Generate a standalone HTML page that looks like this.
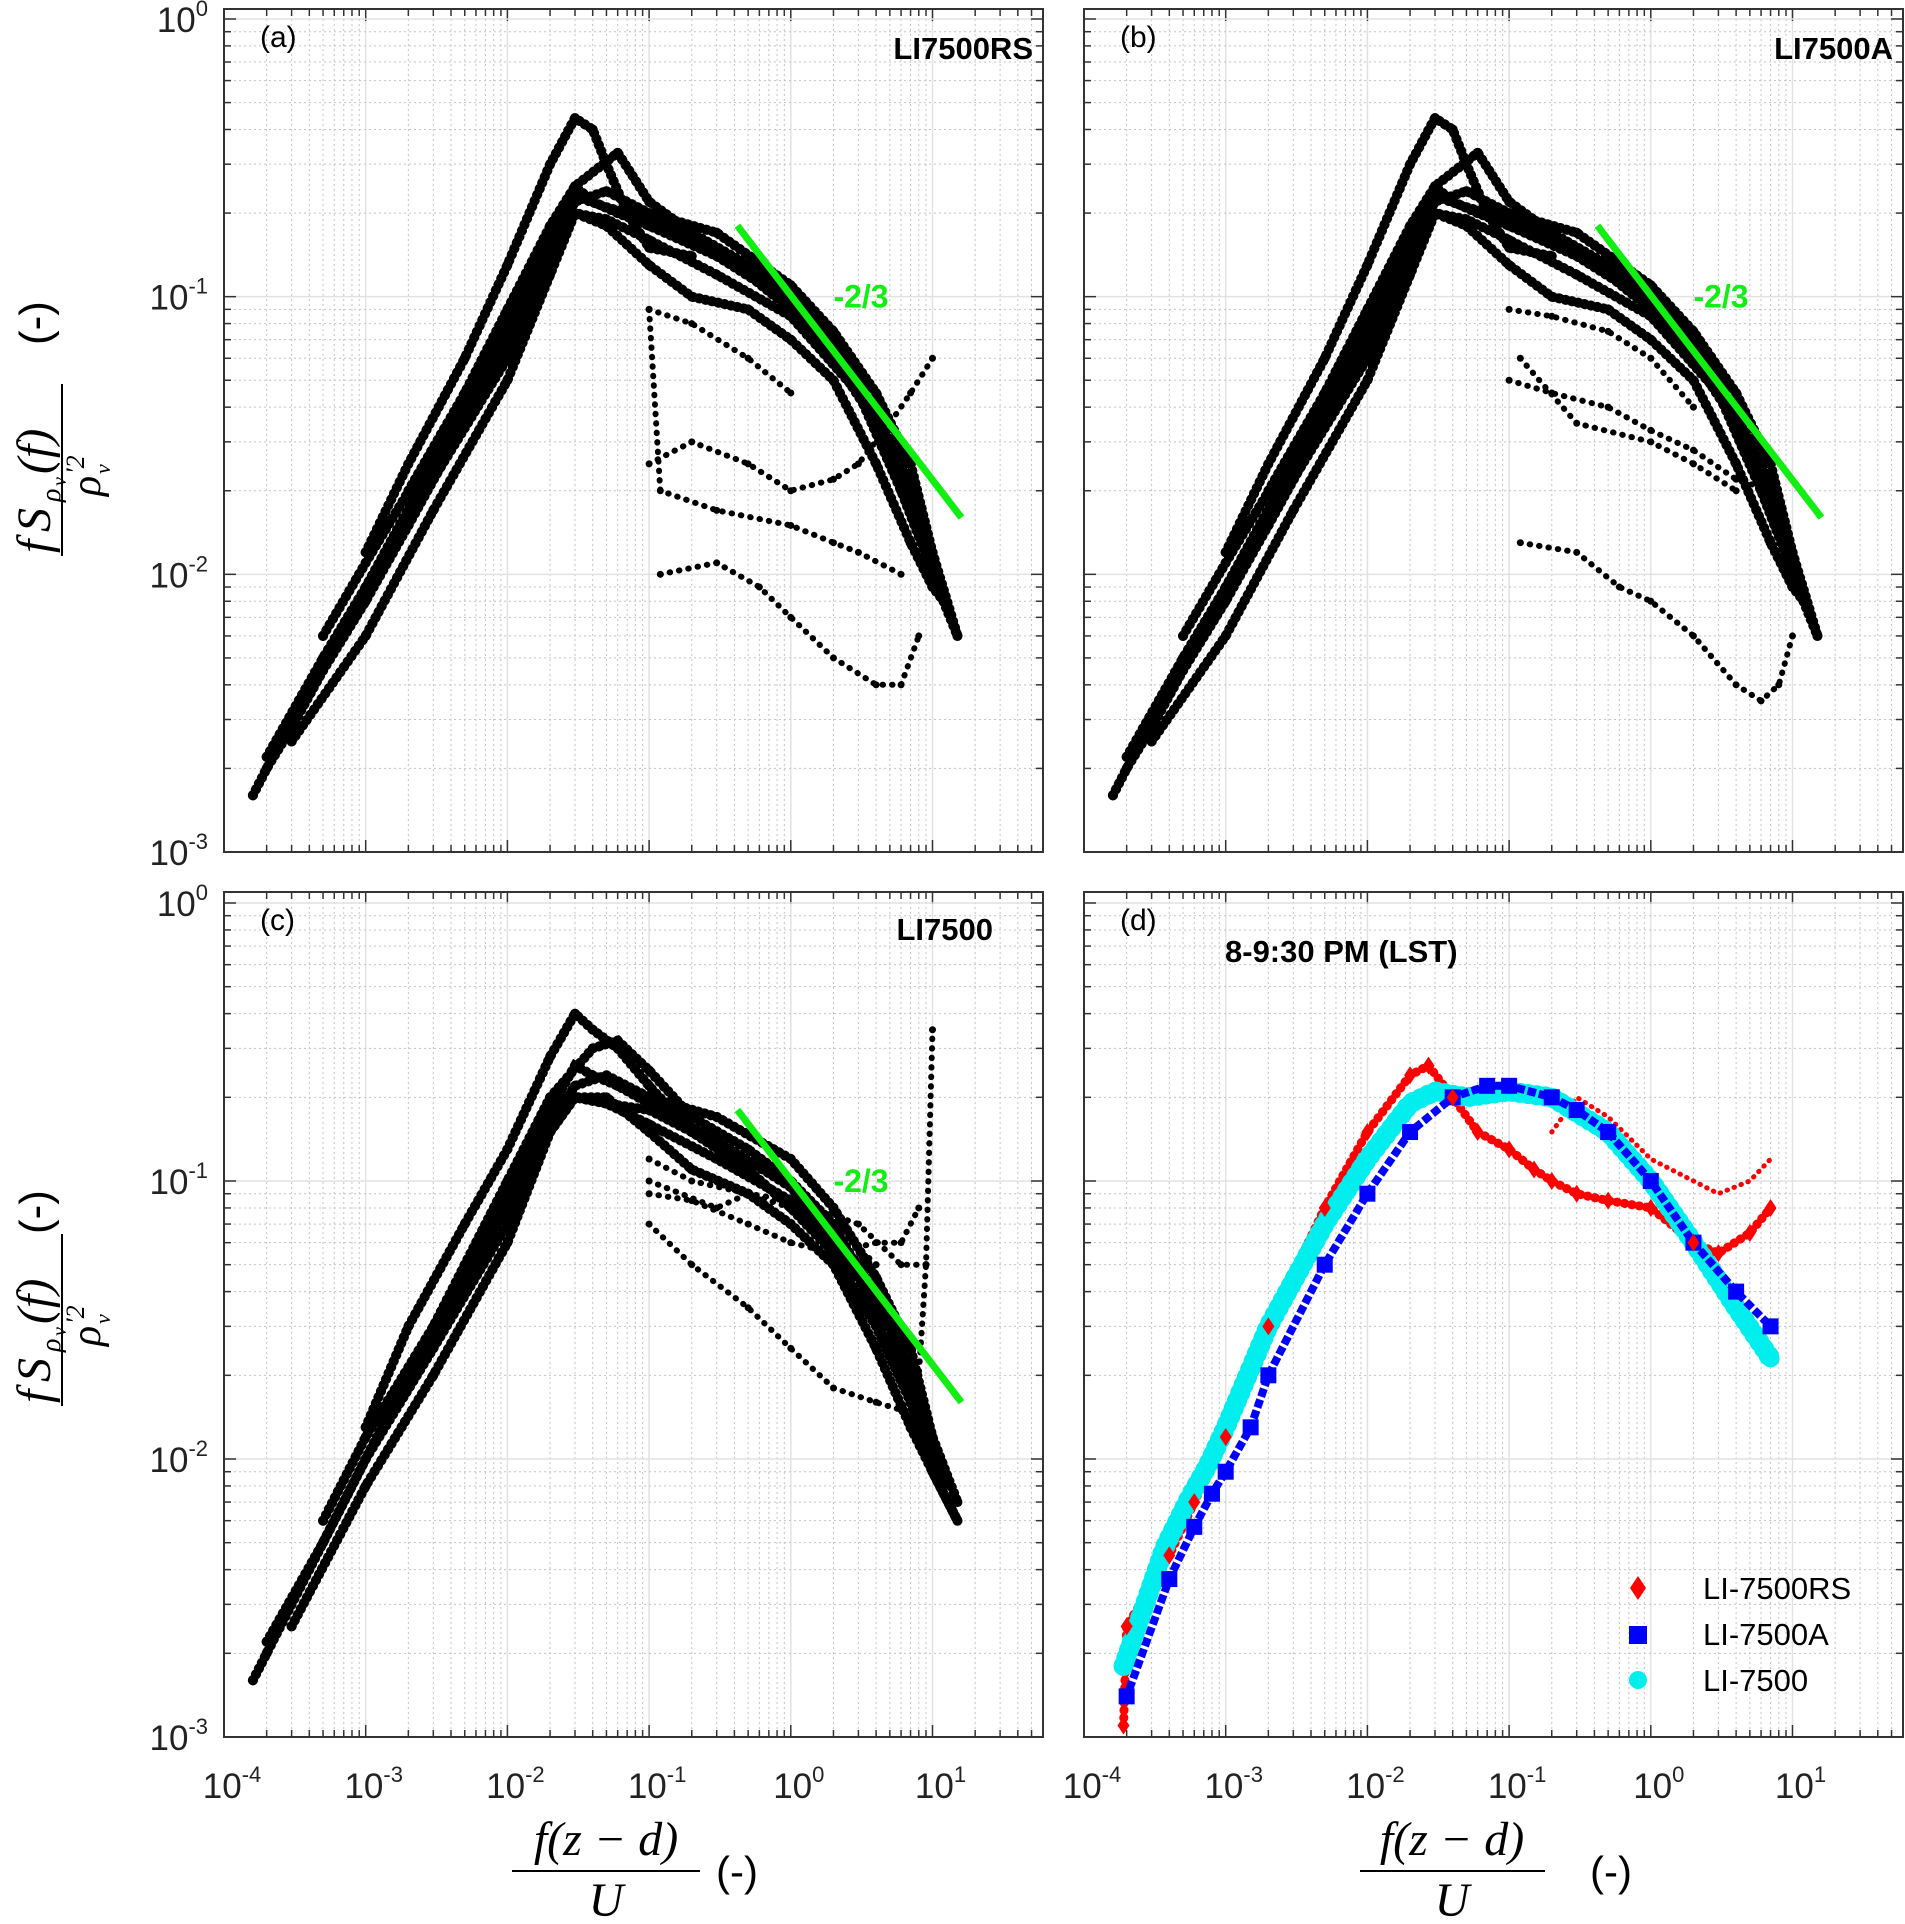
<!DOCTYPE html>
<html><head><meta charset="utf-8"><style>
html,body{margin:0;padding:0;background:#fff;}
svg{display:block;}
text{font-family:"Liberation Sans",sans-serif;}
.serif{font-family:"Liberation Serif",serif;font-style:italic;}
</style></head><body>
<svg id="chart" xmlns="http://www.w3.org/2000/svg" width="1905" height="1924" viewBox="0 0 1905 1924">
<rect width="1905" height="1924" fill="#fff"/>
<g id="layer"></g>
<g transform="translate(0,470) rotate(-90)">
  <text class="serif" x="-83" y="50" font-size="48">f</text>
  <text class="serif" x="-62" y="50" font-size="48">S</text>
  <text class="serif" x="-32" y="60" font-size="28">ρ</text>
  <text class="serif" x="-16" y="66" font-size="20">v</text>
  <text class="serif" x="-4" y="50" font-size="48">(f)</text>
  <line x1="-86" y1="62" x2="86" y2="62" stroke="#000" stroke-width="2"/>
  <text class="serif" x="-26" y="100" font-size="42">ρ</text>
  <text class="serif" x="-4" y="84" font-size="26">′2</text>
  <text class="serif" x="-4" y="110" font-size="22">v</text>
  <text x="125" y="50" font-size="44">(-)</text>
</g>
<g transform="translate(0,1320) rotate(-90)">
  <text class="serif" x="-83" y="50" font-size="48">f</text>
  <text class="serif" x="-62" y="50" font-size="48">S</text>
  <text class="serif" x="-32" y="60" font-size="28">ρ</text>
  <text class="serif" x="-16" y="66" font-size="20">v</text>
  <text class="serif" x="-4" y="50" font-size="48">(f)</text>
  <line x1="-86" y1="62" x2="86" y2="62" stroke="#000" stroke-width="2"/>
  <text class="serif" x="-26" y="100" font-size="42">ρ</text>
  <text class="serif" x="-4" y="84" font-size="26">′2</text>
  <text class="serif" x="-4" y="110" font-size="22">v</text>
  <text x="86" y="50" font-size="44">(-)</text>
</g>
<g>
  <text class="serif" x="606" y="1855" font-size="48" text-anchor="middle">f(z − d)</text>
  <line x1="512" y1="1871" x2="700" y2="1871" stroke="#000" stroke-width="2"/>
  <text class="serif" x="606" y="1916" font-size="48" text-anchor="middle">U</text>
  <text x="716" y="1886" font-size="42">(-)</text>
</g>
<g>
  <text class="serif" x="1452" y="1855" font-size="48" text-anchor="middle">f(z − d)</text>
  <line x1="1360" y1="1871" x2="1545" y2="1871" stroke="#000" stroke-width="2"/>
  <text class="serif" x="1452" y="1916" font-size="48" text-anchor="middle">U</text>
  <text x="1590" y="1886" font-size="42">(-)</text>
</g>
</svg>
<script>
// ---------- data (x = f(z-d)/U, y = normalized spectrum) ----------
const aXs = [
 [1.6e-4,2e-4,3e-4,5e-4,1e-3,2e-3,5e-3,1e-2,2e-2,3e-2,5e-2,0.1,0.2,0.5,1,2,4,7,10,15],
 [1e-3,2e-3,5e-3,1e-2,2e-2,3e-2,4e-2,5e-2,7e-2,0.1,0.2],
 [2e-3,5e-3,1e-2,2e-2,3e-2,6e-2,0.1,0.2],
 [3e-4,1e-3,3e-3,1e-2,2e-2,3e-2,5e-2,0.1,0.2,0.5,1,2,4,7,10,12],
 [0.06,0.1,0.3,1,2,4,7,10,15],
 [5e-4,1e-3,3e-3,1e-2,2e-2,3e-2,4e-2,6e-2,0.1,0.3,1,3,6,10],
 [2e-4,5e-4,1e-3,3e-3,1e-2,2e-2,3e-2,5e-2,0.1,0.3,1,3,6,12],
 [1e-3,3e-3,1e-2,2e-2,3e-2,5e-2,0.1,0.2,0.5,1,2,5,10],
 [0.1,0.2,0.5,1,2,3,5,7,10],
 [0.1,0.12,0.3,1,2,3,6],
 [0.12,0.3,0.6,1,2,4,6,8],
 [0.1,0.2,0.5,1]
];
const aYs = [
 [0.0016,0.002,0.0028,0.0045,0.008,0.015,0.035,0.07,0.17,0.23,0.21,0.19,0.16,0.12,0.09,0.06,0.035,0.018,0.01,0.006],
 [0.012,0.025,0.06,0.13,0.3,0.44,0.4,0.3,0.2,0.15,0.14],
 [0.02,0.045,0.09,0.18,0.25,0.33,0.22,0.17],
 [0.0025,0.006,0.017,0.05,0.12,0.2,0.18,0.13,0.1,0.09,0.07,0.05,0.025,0.013,0.009,0.008],
 [0.2,0.2,0.17,0.11,0.075,0.045,0.025,0.012,0.006],
 [0.006,0.011,0.028,0.08,0.17,0.25,0.22,0.2,0.18,0.14,0.095,0.05,0.025,0.012],
 [0.0022,0.005,0.009,0.022,0.06,0.14,0.2,0.19,0.16,0.12,0.085,0.045,0.02,0.008],
 [0.009,0.025,0.07,0.15,0.22,0.24,0.2,0.17,0.13,0.1,0.07,0.03,0.01],
 [0.025,0.03,0.025,0.02,0.022,0.025,0.035,0.045,0.06],
 [0.09,0.02,0.017,0.015,0.013,0.012,0.01],
 [0.01,0.011,0.009,0.007,0.005,0.004,0.004,0.006],
 [0.09,0.08,0.06,0.045]
];
const bXs = [
 [1.6e-4,2e-4,3e-4,5e-4,1e-3,2e-3,5e-3,1e-2,2e-2,3e-2,5e-2,0.1,0.2,0.5,1,2,4,7,10,15],
 [1e-3,2e-3,5e-3,1e-2,2e-2,3e-2,4e-2,5e-2,7e-2,0.1,0.2],
 [2e-3,5e-3,1e-2,2e-2,3e-2,6e-2,0.1,0.2],
 [3e-4,1e-3,3e-3,1e-2,2e-2,3e-2,5e-2,0.1,0.2,0.5,1,2,4,7,10,12],
 [0.06,0.1,0.3,1,2,4,7,10,15],
 [5e-4,1e-3,3e-3,1e-2,2e-2,3e-2,4e-2,6e-2,0.1,0.3,1,3,6,10],
 [2e-4,5e-4,1e-3,3e-3,1e-2,2e-2,3e-2,5e-2,0.1,0.3,1,3,6,12],
 [1e-3,3e-3,1e-2,2e-2,3e-2,5e-2,0.1,0.2,0.5,1,2,5,10],
 [0.1,0.2,0.5,1,2,4,7],
 [0.12,0.3,0.6,1,2,4,6,8,10],
 [0.12,0.3,1,2,4],
 [0.1,0.2,0.5,1,2]
];
const bYs = [
 [0.0016,0.002,0.0028,0.0045,0.008,0.015,0.035,0.07,0.17,0.23,0.21,0.19,0.16,0.12,0.09,0.06,0.035,0.018,0.01,0.006],
 [0.012,0.025,0.06,0.13,0.3,0.44,0.4,0.3,0.2,0.15,0.14],
 [0.02,0.045,0.09,0.18,0.25,0.33,0.22,0.17],
 [0.0025,0.006,0.017,0.05,0.12,0.2,0.18,0.13,0.1,0.09,0.07,0.05,0.025,0.013,0.009,0.008],
 [0.2,0.2,0.17,0.11,0.075,0.045,0.025,0.012,0.006],
 [0.006,0.011,0.028,0.08,0.17,0.25,0.22,0.2,0.18,0.14,0.095,0.05,0.025,0.012],
 [0.0022,0.005,0.009,0.022,0.06,0.14,0.2,0.19,0.16,0.12,0.085,0.045,0.02,0.008],
 [0.009,0.025,0.07,0.15,0.22,0.24,0.2,0.17,0.13,0.1,0.07,0.03,0.01],
 [0.05,0.045,0.04,0.033,0.028,0.022,0.02],
 [0.013,0.012,0.009,0.008,0.006,0.004,0.0035,0.004,0.006],
 [0.06,0.035,0.03,0.025,0.02],
 [0.09,0.085,0.075,0.06,0.04]
];
const cXs = [
 [1.6e-4,2e-4,3e-4,5e-4,1e-3,2e-3,5e-3,1e-2,2e-2,3e-2,5e-2,0.1,0.2,0.5,1,2,4,7,10,15],
 [1e-3,2e-3,5e-3,1e-2,2e-2,3e-2,4e-2,6e-2,0.1,0.2],
 [2e-3,5e-3,1e-2,2e-2,4e-2,6e-2,0.1,0.2],
 [3e-4,1e-3,3e-3,1e-2,2e-2,3e-2,5e-2,0.1,0.2,0.5,1,2,4,7,10,15],
 [0.06,0.1,0.3,1,2,4,7,10,15],
 [5e-4,1e-3,3e-3,1e-2,2e-2,3e-2,4e-2,6e-2,0.1,0.3,1,3,6,10],
 [2e-4,5e-4,1e-3,3e-3,1e-2,2e-2,3e-2,5e-2,0.1,0.3,1,3,6,12],
 [1e-3,3e-3,1e-2,2e-2,3e-2,5e-2,0.1,0.2,0.5,1,2,5,10],
 [0.1,0.2,0.5,1,2,4,6,8,9,10],
 [0.1,0.2,0.5,1,2,4,6,8],
 [0.1,0.3,0.5,1,2,4],
 [0.1,0.2,0.5,1,3,6,9]
];
const cYs = [
 [0.0016,0.002,0.003,0.005,0.01,0.02,0.045,0.09,0.18,0.2,0.19,0.18,0.15,0.11,0.08,0.055,0.03,0.016,0.009,0.006],
 [0.013,0.03,0.07,0.13,0.28,0.4,0.35,0.3,0.22,0.15],
 [0.02,0.05,0.1,0.2,0.3,0.32,0.25,0.17],
 [0.0025,0.008,0.02,0.06,0.15,0.2,0.2,0.15,0.11,0.09,0.07,0.05,0.025,0.013,0.009,0.006],
 [0.22,0.2,0.17,0.12,0.08,0.045,0.025,0.012,0.007],
 [0.006,0.012,0.03,0.09,0.18,0.26,0.24,0.22,0.19,0.14,0.095,0.05,0.025,0.012],
 [0.0022,0.005,0.01,0.025,0.07,0.15,0.2,0.19,0.16,0.12,0.085,0.045,0.02,0.008],
 [0.01,0.028,0.08,0.16,0.22,0.24,0.2,0.17,0.13,0.1,0.07,0.03,0.01],
 [0.07,0.05,0.035,0.025,0.018,0.016,0.015,0.02,0.05,0.35],
 [0.09,0.085,0.07,0.06,0.055,0.06,0.06,0.08],
 [0.1,0.08,0.09,0.08,0.07,0.05],
 [0.12,0.1,0.09,0.085,0.07,0.05,0.05]
];
const dRedX = [1.9e-4,2e-4,4e-4,6e-4,1e-3,2e-3,5e-3,1e-2,2e-2,2.7e-2,4e-2,6e-2,0.1,0.15,0.2,0.3,0.5,1,2,3,5,7];
const dRedY = [0.0011,0.0025,0.0045,0.007,0.012,0.03,0.08,0.15,0.24,0.26,0.2,0.15,0.13,0.11,0.1,0.09,0.085,0.08,0.06,0.055,0.065,0.08];
const dRed2X = [0.2,0.3,0.5,1,2,3,5,7];
const dRed2Y = [0.15,0.2,0.17,0.12,0.1,0.09,0.1,0.12];
const dBlueX = [2e-4,4e-4,6e-4,8e-4,1e-3,1.5e-3,2e-3,5e-3,1e-2,2e-2,4e-2,7e-2,0.1,0.2,0.3,0.5,1,2,4,7];
const dBlueY = [0.0014,0.0037,0.0057,0.0075,0.009,0.013,0.02,0.05,0.09,0.15,0.2,0.22,0.22,0.2,0.18,0.15,0.1,0.06,0.04,0.03];
const dCyanX = [1.9e-4,3.7e-4,5.5e-4,7.5e-4,1e-3,2e-3,5e-3,1e-2,2e-2,3e-2,5e-2,0.1,0.2,0.5,1,2,4,7];
const dCyanY = [0.0018,0.0048,0.0072,0.0095,0.013,0.03,0.07,0.12,0.19,0.21,0.2,0.21,0.2,0.15,0.1,0.06,0.035,0.023];
const slopeX = [0.42,16];
const slopeY = [0.18,0.016];
const xTickExp = [-4,-3,-2,-1,0,1];
const yTickExp = [0,-1,-2,-3];

// ---------- layout ----------
const NS='http://www.w3.org/2000/svg';
const layer=document.getElementById('layer');
const DEC=141.7;
const MAIN=8;
const panels=[
 {id:'a',l:224,r:1043,y0:19,yb:852,top:9,xl:false,yl:true,title:'LI7500RS',xs:aXs,ys:aYs},
 {id:'b',l:1084,r:1903,y0:19,yb:852,top:9,xl:false,yl:false,title:'LI7500A',xs:bXs,ys:bYs},
 {id:'c',l:224,r:1043,y0:903,yb:1737,top:892,xl:true,yl:true,title:'LI7500',xs:cXs,ys:cYs},
 {id:'d',l:1084,r:1903,y0:903,yb:1737,top:892,xl:true,yl:false,title:'8-9:30 PM (LST)'}
];
function mk(tag,attrs,parent){const e=document.createElementNS(NS,tag);for(const k in attrs)e.setAttribute(k,attrs[k]);(parent||layer).appendChild(e);return e;}
function X(p,v){return p.l+DEC*(Math.log10(v)+4);}
function Y(p,v){return p.y0+(p.yb-p.y0)/3*(-Math.log10(v));}
function pts(p,xs,ys){return xs.map((x,i)=>X(p,x).toFixed(1)+','+Y(p,ys[i]).toFixed(1)).join(' ');}

panels.forEach(p=>{
 const g=mk('g',{});
 
 
 const grid=mk('g',{},g);
 
 
 for(let n=-4;n<=1;n++)for(let k=1;k<=9;k++){
  const xv=k*Math.pow(10,n);const x=X(p,xv);if(x>p.r-1)continue;
  if(k===1){mk('line',{x1:x,y1:p.top,x2:x,y2:p.yb,stroke:'#e2e2e2','stroke-width':1.5},grid);}
  else mk('line',{x1:x,y1:p.top,x2:x,y2:p.yb,stroke:'#c4c4c4','stroke-width':1,'stroke-dasharray':'2 3'},grid);
  const tl=k===1?12:7;
  mk('line',{x1:x,y1:p.yb,x2:x,y2:p.yb-tl,stroke:'#333','stroke-width':1.5},grid);
  mk('line',{x1:x,y1:p.top,x2:x,y2:p.top+tl,stroke:'#333','stroke-width':1.5},grid);
 }
 for(let n=-3;n<=0;n++)for(let k=1;k<=9;k++){
  const yv=k*Math.pow(10,n);if(yv>1.001)continue;const y=Y(p,yv);
  if(k===1){mk('line',{x1:p.l,y1:y,x2:p.r,y2:y,stroke:'#e2e2e2','stroke-width':1.5},grid);}
  else mk('line',{x1:p.l,y1:y,x2:p.r,y2:y,stroke:'#c4c4c4','stroke-width':1,'stroke-dasharray':'2 3'},grid);
  const tl=k===1?12:7;
  mk('line',{x1:p.l,y1:y,x2:p.l+tl,y2:y,stroke:'#333','stroke-width':1.5},grid);
  mk('line',{x1:p.r,y1:y,x2:p.r-tl,y2:y,stroke:'#333','stroke-width':1.5},grid);
 }
 const frame=mk('rect',{x:p.l,y:p.top,width:p.r-p.l,height:p.yb-p.top,fill:'none',stroke:'#333','stroke-width':2},g);
 
 
 if(p.yl) yTickExp.forEach(e=>{
  const t=mk('text',{x:208,y:Y(p,Math.pow(10,e))+13,'font-size':35,'text-anchor':'end',fill:'#222'},g);
  
  
  t.innerHTML='10<tspan font-size="22" dy="-16">'+(e===0?'0':('-'+(-e)))+'</tspan>';
 });
 if(p.xl) xTickExp.forEach(e=>{
  const t=mk('text',{x:X(p,Math.pow(10,e))+8,y:1798,'font-size':35,'text-anchor':'middle',fill:'#222'},g);
  
  
  t.innerHTML='10<tspan font-size="22" dy="-16">'+(e===0?'0':(e>0?e:'-'+(-e)))+'</tspan>';
 });
 const lt=mk('text',{x:p.l+36,y:p.top+38,'font-size':30},g);
 
 
 lt.textContent='('+p.id+')';
 const tt=p.id==='d'?mk('text',{x:1225,y:p.top+70,'font-size':31,'font-weight':'bold'},g):mk('text',{x:p.r-10,y:p.top+50,'font-size':31,'font-weight':'bold','text-anchor':'end'},g);
 if(p.id==='c'){tt.setAttribute('x',p.r-50);tt.setAttribute('y',p.top+48);}
 
 
 tt.textContent=p.title;

 if(p.xs){
  const s=mk('g',{},g);
  
  
  p.xs.forEach((xs,i)=>{
   const main=i<MAIN;
   const pl=mk('polyline',{points:pts(p,xs,p.ys[i]),fill:'none',stroke:'#000','stroke-width':main?10:6,'stroke-linecap':'round','stroke-dasharray':main?'0.5 6':'0.5 9'},s);
   
   
   xs.forEach((x,j)=>{
    const c=mk('circle',{cx:X(p,x),cy:Y(p,p.ys[i][j]),r:main?5:3.5,fill:'#000'},s);
    
    
   });
  });
  const gl=mk('line',{x1:X(p,slopeX[0]),y1:Y(p,slopeY[0]),x2:X(p,slopeX[1]),y2:Y(p,slopeY[1]),stroke:'#11ee11','stroke-width':7},g);
  
  
  const st=mk('text',{x:X(p,2.0),y:Y(p,0.1)+11,'font-size':32,'font-weight':'bold',fill:'#11ee11'},g);
  
  
  st.textContent='-2/3';
 } else {
  const s=mk('g',{},g);
  
  
  const r1=mk('polyline',{points:pts(p,dRedX,dRedY),fill:'none',stroke:'#ff0000','stroke-width':9,'stroke-linecap':'round','stroke-dasharray':'0.5 7'},s);
  
  
  const r2=mk('polyline',{points:pts(p,dRed2X,dRed2Y),fill:'none',stroke:'#ff0000','stroke-width':5,'stroke-linecap':'round','stroke-dasharray':'0.5 7'},s);
  
  
  const c1=mk('polyline',{points:pts(p,dCyanX,dCyanY),fill:'none',stroke:'#00eeee','stroke-width':20,'stroke-linecap':'round','stroke-dasharray':'0.5 8'},s);
  
  
  dCyanX.forEach((x,j)=>{
   const c=mk('circle',{cx:X(p,x),cy:Y(p,dCyanY[j]),r:9,fill:'#00eeee'},s);
   
   
  });
  const b1=mk('polyline',{points:pts(p,dBlueX,dBlueY),fill:'none',stroke:'#0000ff','stroke-width':8,'stroke-linecap':'square','stroke-dasharray':'0.5 11'},s);
  
  
  dBlueX.forEach((x,j)=>{
   const q=mk('rect',{x:X(p,x)-8,y:Y(p,dBlueY[j])-8,width:16,height:16,fill:'#0000ff'},s);
   
   
  });
  dRedX.forEach((x,j)=>{
   const cx=X(p,x),cy=Y(p,dRedY[j]);
   const d=mk('polygon',{points:`${cx},${cy-9} ${cx+6},${cy} ${cx},${cy+9} ${cx-6},${cy}`,fill:'#ff0000'},s);
   
   
  });
  const lg=mk('g',{},g);
  
  
  const m1=mk('polygon',{points:'1638,1576 1646,1588 1638,1600 1630,1588',fill:'#ff0000'},lg);
  
  
  const m2=mk('rect',{x:1629,y:1626,width:18,height:18,fill:'#0000ff'},lg);
  
  
  const m3=mk('circle',{cx:1638,cy:1680,r:9,fill:'#00eeee'},lg);
  
  
  [['LI-7500RS',1599],['LI-7500A',1645],['LI-7500',1691]].forEach(([txt,y])=>{
   const t=mk('text',{x:1703,y:y,'font-size':31},lg);
   
   
   t.textContent=txt;
  });
 }
});
</script>
</body></html>
